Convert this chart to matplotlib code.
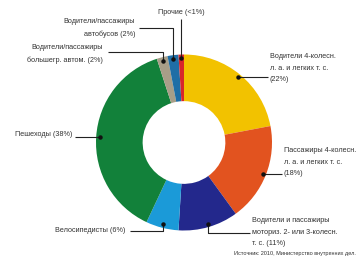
import numpy as np
import matplotlib
matplotlib.use("Agg")
import matplotlib.pyplot as plt

plt.rcParams["font.family"] = ["Liberation Sans Narrow", "Liberation Sans", "DejaVu Sans"]

# data, clockwise from the top
categories = [
    "Водители 4-колесн.\nл. а. и легких т. с.\n(22%)",
    "Пассажиры 4-колесн.\nл. а. и легких т. с.\n(18%)",
    "Водители и пассажиры\nмоториз. 2- или 3-колесн.\nт. с. (11%)",
    "Велосипедисты (6%)",
    "Пешеходы (38%)",
    "Водители/пассажиры\nбольшегр. автом. (2%)",
    "Водители/пассажиры\nавтобусов (2%)",
    "Прочие (<1%)",
]
shares = [22, 18, 11, 6, 38, 2, 2, 1]
colors = ["#f2c200", "#e2531f", "#23288c", "#1b9ad8", "#12813a",
          "#a89e88", "#1f6ea6", "#d8262b"]
source = "Источник: 2010, Министерство внутренних дел."

# label layout: elbow points (pixels) for leader lines, text anchor, alignment
layout = [
    dict(path=[(268, None)], txt=(270, 68), ha="left"),
    dict(path=[(282, None)], txt=(284, 162), ha="left"),
    dict(path=[(None, 233), (250, 233)], txt=(252, 232), ha="left"),
    dict(path=[(None, 231), (130, 231)], txt=(125, 231), ha="right"),
    dict(path=[(75, None)], txt=(72, 134), ha="right"),
    dict(path=[(None, 52), (108, 52)], txt=(103, 54), ha="right"),
    dict(path=[(None, 28), (139, 28)], txt=(135, 28), ha="right"),
    dict(path=[(None, 19)], txt=(181, 13), ha="center"),
]

fig = plt.figure(figsize=(3.57, 2.66), dpi=100)
ax = fig.add_axes([0, 0, 1, 1])

cx, cy, R = 184, 142.5, 88
wedges, _ = ax.pie(shares, colors=colors, startangle=-90, counterclock=True,
                   center=(cx, cy), radius=R, frame=True,
                   wedgeprops=dict(width=R * 0.53, linewidth=0))

ax.set_xlim(0, 357)
ax.set_ylim(266, 0)
ax.set_aspect("equal")
ax.axis("off")

for w, lab, lay in zip(wedges, categories, layout):
    ang = np.deg2rad((w.theta1 + w.theta2) / 2)
    x0 = cx + 0.96 * R * np.cos(ang)
    y0 = cy + 0.96 * R * np.sin(ang)
    xs, ys = [x0], [y0]
    for px, py in lay["path"]:
        xs.append(xs[-1] if px is None else px)
        ys.append(ys[-1] if py is None else py)
    ax.plot(xs, ys, color="#222222", lw=0.8, solid_capstyle="butt")
    ax.plot([x0], [y0], "o", color="#111111", ms=2.2)
    ax.text(lay["txt"][0], lay["txt"][1], lab, ha=lay["ha"], va="center",
            fontsize=5.2, color="#333333", linespacing=1.95)

ax.text(356, 253, source, ha="right", va="center", fontsize=4.0, color="#333333")

fig.savefig("out.png", dpi=100)
